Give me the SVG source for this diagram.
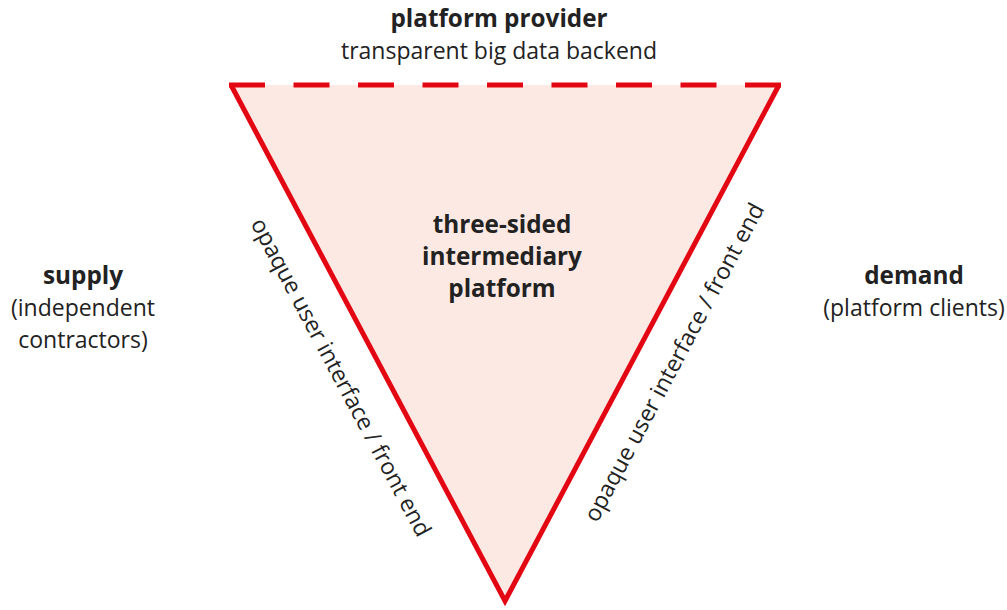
<svg xmlns="http://www.w3.org/2000/svg" width="1007" height="610" viewBox="0 0 1007 610">
  <style>
    text { font-family: "Open Sans", "Noto Sans", "Liberation Sans", sans-serif; font-size: 23px; fill: #222; }
    .b { font-weight: bold; font-size: 24.3px; }
    .c { text-anchor: middle; }
    .edge { stroke: #e30613; stroke-width: 5; fill: none; }
  </style>
  <rect width="1007" height="610" fill="#fff"/>

  <!-- platform body -->
  <g id="platform">
    <polygon points="231,85 779,85 505,601" fill="#fde9e3"/>
    <text class="b c" x="502" y="233">three-sided</text>
    <text class="b c" x="502" y="265">intermediary</text>
    <text class="b c" x="502" y="297">platform</text>
  </g>

  <!-- triangle edges -->
  <g id="connectors">
    <polyline class="edge" points="231,85 505,601 779,85" stroke-linejoin="miter"/>
    <line class="edge" x1="229" y1="85" x2="781" y2="85" stroke-dasharray="36 28.5"/>
    <text class="c" transform="translate(334,381) rotate(62)">opaque user interface / front end</text>
    <text class="c" transform="translate(681,366) rotate(-62)">opaque user interface / front end</text>
  </g>

  <g id="provider">
    <text class="b c" x="499" y="27">platform provider</text>
    <text class="c" x="499" y="59">transparent big data backend</text>
  </g>

  <g id="supply">
    <text class="b c" x="83" y="284">supply</text>
    <text class="c" x="83" y="316">(independent</text>
    <text class="c" x="83" y="348">contractors)</text>
  </g>

  <g id="demand">
    <text class="b c" x="914" y="284">demand</text>
    <text class="c" x="914" y="316">(platform clients)</text>
  </g>
</svg>
